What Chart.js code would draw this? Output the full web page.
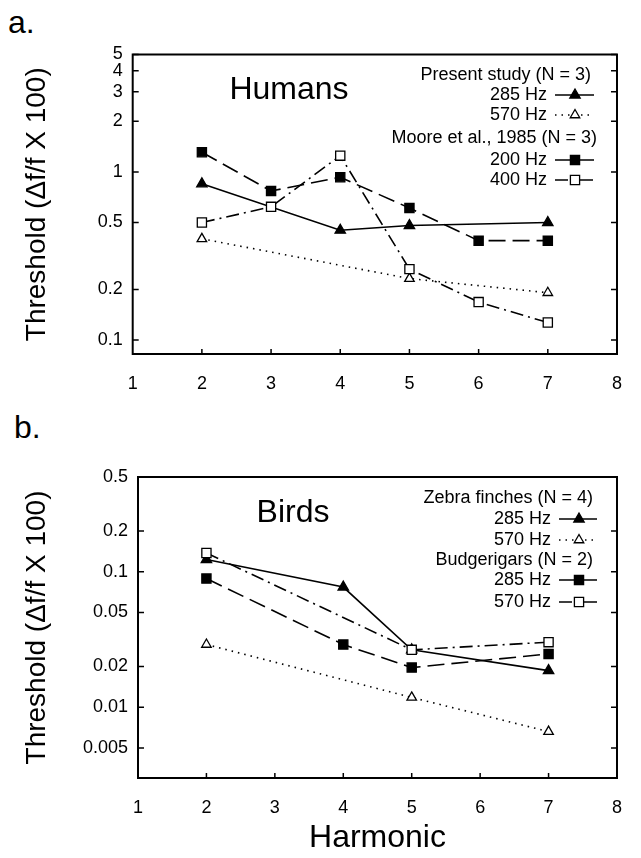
<!DOCTYPE html>
<html>
<head>
<meta charset="utf-8">
<script src="https://cdn.jsdelivr.net/npm/chart.js@4.4.0/dist/chart.umd.min.js"></script>
<style>
  body { margin: 0; background: #fff; width: 641px; height: 858px; position: relative; overflow: hidden;
         font-family: "Liberation Sans", Arial, sans-serif; }
  .lbl { position: absolute; font-size: 32px; color: #000; line-height: 1; }
  #wa { position: absolute; left: 0; top: 0; }
  #wb { position: absolute; left: 0; top: 400px; }
</style>
</head>
<body>
<div class="lbl" style="left:8px;top:6px">a.</div>
<div class="lbl" style="left:14px;top:411px">b.</div>
<div id="wa"><canvas id="chartA" width="641" height="400"></canvas></div>
<div id="wb"><canvas id="chartB" width="641" height="458"></canvas></div>
<script>
const FONT = '"Liberation Sans", Arial, Helvetica, sans-serif';

// x axis (harmonic number)
let xTicks = [1, 2, 3, 4, 5, 6, 7, 8];

// panel a - humans
let harmA285 = [2, 4, 5, 7];
let humans285 = [0.85, 0.45, 0.48, 0.50];
let harmA570 = [2, 5, 7];
let humans570 = [0.40, 0.232, 0.191];
let harmMoore = [2, 3, 4, 5, 6, 7];
let moore200 = [1.31, 0.77, 0.93, 0.61, 0.39, 0.39];
let moore400 = [0.50, 0.62, 1.25, 0.264, 0.168, 0.127];
let yTicksA = [0.1, 0.2, 0.5, 1, 2, 3, 4, 5];

// panel b - birds
let harmB285 = [2, 4, 5, 7];
let finch285 = [0.123, 0.077, 0.0265, 0.0186];
let budgie285 = [0.089, 0.029, 0.0196, 0.0247];
let harmB570 = [2, 5, 7];
let finch570 = [0.029, 0.0118, 0.0066];
let budgie570 = [0.1375, 0.0265, 0.0302];
let yTicksB = [0.005, 0.01, 0.02, 0.05, 0.1, 0.2, 0.5];

// line + marker styles
const SOLID = [], DOTTED = [1.5, 5], LONGDASH = [17, 7], DASHDOT = [13, 5, 2, 5];
const filledTri = { pointStyle: 'triangle', pointRadius: 6, pointBackgroundColor: '#000' };
const openTri = { pointStyle: 'triangle', pointRadius: 5.5, pointBackgroundColor: '#fff' };
const filledSq = { pointStyle: 'rect', pointRadius: 6.5, pointBackgroundColor: '#000' };
const openSq = { pointStyle: 'rect', pointRadius: 6.5, pointBackgroundColor: '#fff' };

function series(xs, ys, marker, dash) {
  return Object.assign({
    data: xs.map((x, i) => ({ x: x, y: ys[i] })),
    borderColor: '#000', borderWidth: 1.6, borderDash: dash, tension: 0,
    pointBorderColor: '#000', pointBorderWidth: 1.3, pointHoverRadius: 0
  }, marker);
}

// own marker drawing for the legend samples
function marker(ctx, ds, x, y) {
  const r = ds.pointRadius;
  ctx.beginPath();
  if (ds.pointStyle === 'triangle') {
    ctx.moveTo(x, y - r);
    ctx.lineTo(x + r * 0.866, y + r * 0.5);
    ctx.lineTo(x - r * 0.866, y + r * 0.5);
    ctx.closePath();
  } else {
    const h = r * Math.SQRT1_2;
    ctx.rect(x - h, y - h, 2 * h, 2 * h);
  }
  ctx.fillStyle = ds.pointBackgroundColor;
  ctx.fill();
  ctx.lineWidth = 1.3;
  ctx.stroke();
}

function panelPlugin(cfg) {
  return {
    id: 'panel',
    beforeDatasetsDraw(chart) {
      const { ctx, chartArea: a, scales } = chart;
      ctx.save();
      ctx.strokeStyle = '#000';
      ctx.lineWidth = 2;
      ctx.strokeRect(a.left, a.top, a.right - a.left, a.bottom - a.top);
      ctx.lineWidth = 1.5;
      ctx.beginPath();
      cfg.yTicks.forEach(v => {
        const y = scales.y.getPixelForValue(v);
        ctx.moveTo(a.left, y); ctx.lineTo(a.left + 6, y);
        ctx.moveTo(a.right, y); ctx.lineTo(a.right - 6, y);
      });
      xTicks.slice(1, -1).forEach(v => {
        const x = scales.x.getPixelForValue(v);
        ctx.moveTo(x, a.bottom); ctx.lineTo(x, a.bottom - 5);
      });
      ctx.stroke();
      ctx.restore();
    },
    afterDatasetsDraw(chart) {
      const ctx = chart.ctx;
      ctx.save();
      ctx.fillStyle = '#000';
      ctx.strokeStyle = '#000';
      ctx.textBaseline = 'middle';
      ctx.textAlign = 'center';
      ctx.font = '32px ' + FONT;
      ctx.fillText(cfg.name[0], cfg.name[1], cfg.name[2]);
      ctx.textAlign = 'right';
      ctx.font = '18px ' + FONT;
      cfg.heads.forEach(h => ctx.fillText(h[0], h[1], h[2]));
      cfg.items.forEach(it => {
        const ds = it[3];
        ctx.fillStyle = '#000';
        ctx.fillText(it[0], it[1], it[2]);
        ctx.lineWidth = ds.borderWidth;
        ctx.setLineDash(ds.borderDash);
        ctx.beginPath();
        ctx.moveTo(cfg.sample[0], it[2]);
        ctx.lineTo(cfg.sample[1], it[2]);
        ctx.stroke();
        ctx.setLineDash([]);
        marker(ctx, ds, cfg.sample[2], it[2]);
      });
      ctx.restore();
    }
  };
}

function makeChart(id, datasets, cfg) {
  return new Chart(document.getElementById(id), {
    type: 'line',
    data: { datasets: datasets },
    options: {
      responsive: false,
      animation: false,
      events: [],
      layout: { padding: { left: 0, right: cfg.padRight, top: cfg.padTop, bottom: 0 } },
      plugins: { legend: { display: false }, tooltip: { enabled: false } },
      scales: {
        x: {
          type: 'linear', min: 1, max: 8,
          afterBuildTicks: s => { s.ticks = xTicks.map(v => ({ value: v })); },
          afterFit: s => { s.height = cfg.xHeight; },
          grid: { display: false, drawTicks: false },
          border: { display: false },
          ticks: { color: '#000', font: { family: FONT, size: 18 }, padding: 19,
                   maxRotation: 0, autoSkip: false, callback: v => String(v) },
          title: cfg.xTitle
        },
        y: {
          type: 'logarithmic', min: cfg.yMin, max: cfg.yMax,
          afterBuildTicks: s => { s.ticks = cfg.yTicks.map(v => ({ value: v })); },
          afterFit: s => { s.width = cfg.yWidth; },
          grid: { display: false, drawTicks: false },
          border: { display: false },
          ticks: { color: '#000', font: { family: FONT, size: 18 }, padding: 10,
                   autoSkip: false, callback: v => String(v) },
          title: { display: true, text: 'Threshold (\u0394f/f X 100)', color: '#000',
                   font: { family: FONT, size: 28 }, padding: { top: 20, bottom: 0 } }
        }
      }
    },
    plugins: [panelPlugin(cfg)]
  });
}

// panel a
let dsA285 = series(harmA285, humans285, filledTri, SOLID);
let dsA570 = series(harmA570, humans570, openTri, DOTTED);
let dsM200 = series(harmMoore, moore200, filledSq, LONGDASH);
let dsM400 = series(harmMoore, moore400, openSq, DASHDOT);

makeChart('chartA', [dsM400, dsA570, dsM200, dsA285], {
  padTop: 54.5, padRight: 8, xHeight: 46, yWidth: 132.7,
  yMin: 0.0825, yMax: 5, yTicks: yTicksA,
  xTitle: { display: false },
  name: ['Humans', 289, 90],
  heads: [['Present study (N = 3)', 591, 75], ['Moore et al., 1985 (N = 3)', 597, 138]],
  items: [['285 Hz', 547, 95, dsA285], ['570 Hz', 547, 115, dsA570],
          ['200 Hz', 547, 160, dsM200], ['400 Hz', 547, 180, dsM400]],
  sample: [555, 594, 575]
});

// panel b
let dsF285 = series(harmB285, finch285, filledTri, SOLID);
let dsF570 = series(harmB570, finch570, openTri, DOTTED);
let dsB285 = series(harmB285, budgie285, filledSq, LONGDASH);
let dsB570 = series(harmB570, budgie570, openSq, DASHDOT);

makeChart('chartB', [dsB570, dsF570, dsB285, dsF285], {
  padTop: 77, padRight: 7, xHeight: 80, yWidth: 138,
  yMin: 0.003, yMax: 0.5, yTicks: yTicksB,
  xTitle: { display: true, text: 'Harmonic', color: '#000',
            font: { family: FONT, size: 32 }, padding: { top: 0, bottom: 1 } },
  name: ['Birds', 293, 113],
  heads: [['Zebra finches (N = 4)', 593, 98], ['Budgerigars (N = 2)', 593, 160]],
  items: [['285 Hz', 551, 119, dsF285], ['570 Hz', 551, 140, dsF570],
          ['285 Hz', 551, 180, dsB285], ['570 Hz', 551, 202, dsB570]],
  sample: [559, 597, 579]
});
</script>
</body>
</html>
